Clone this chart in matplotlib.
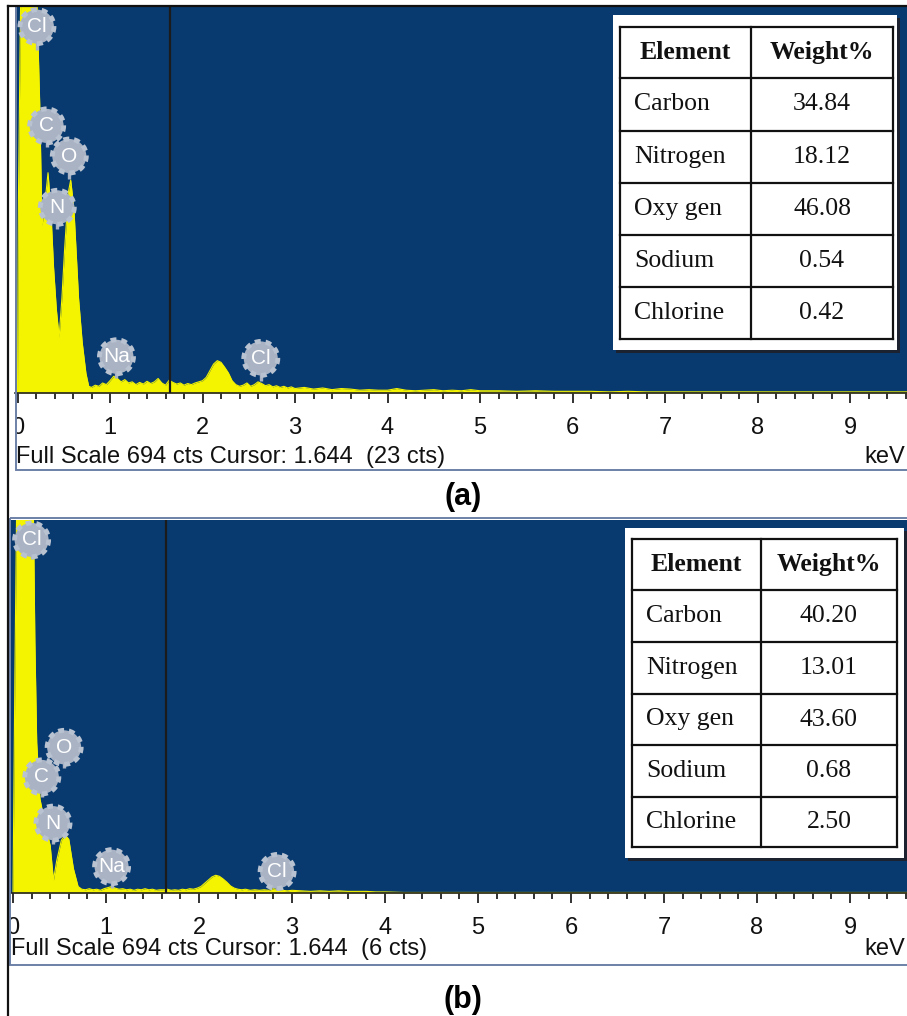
import matplotlib
matplotlib.use("Agg")
import matplotlib.pyplot as plt
from matplotlib.patches import Rectangle
from matplotlib.transforms import Bbox, TransformedBbox

# ---------------- data ----------------
full_scale = 694
cursor_kev = 1.644
cursor_cts_a = 23
cursor_cts_b = 6

# spectrum (a): energy keV / counts
energy_a = [0.00, 0.01, 0.03, 0.05, 0.18, 0.21, 0.24, 0.265, 0.29, 0.33, 0.36, 0.39, 0.42, 0.45,
            0.48, 0.51, 0.55, 0.575, 0.61, 0.66, 0.70, 0.74, 0.77,
            0.80, 0.84, 0.88, 0.92, 0.96, 1.00, 1.04, 1.08, 1.12, 1.16, 1.20, 1.24, 1.28, 1.32,
            1.36, 1.40, 1.44, 1.48, 1.52, 1.56, 1.60, 1.64, 1.68, 1.72, 1.76, 1.80, 1.84, 1.88,
            1.92, 1.96, 2.00, 2.04, 2.08, 2.12, 2.16, 2.20, 2.24, 2.28, 2.32, 2.36, 2.40, 2.44,
            2.48, 2.52, 2.56, 2.60, 2.64, 2.68, 2.72, 2.76, 2.80, 2.84, 2.88, 2.92, 2.96, 3.00,
            3.10, 3.20, 3.30, 3.40, 3.50, 3.60, 3.70, 3.80, 3.90, 4.00, 4.10, 4.20, 4.30, 4.40,
            4.50, 4.60, 4.70, 4.80, 4.90, 5.00, 5.20, 5.40, 5.60, 5.80, 6.00, 6.20, 6.40, 6.60,
            6.80, 7.00, 7.30, 7.60, 8.00, 8.50, 9.00, 9.70]
counts_a = [0, 350, 650, 900, 900, 700, 520, 300, 330, 395, 330, 225, 150, 100,
            170, 260, 360, 382, 330, 170, 90, 35, 12,
            10, 14, 12, 18, 15, 22, 30, 26, 20, 24, 18, 20, 15, 19,
            16, 21, 17, 20, 26, 18, 14, 23, 19, 16, 18, 14, 17, 15,
            18, 20, 22, 28, 40, 52, 58, 55, 46, 36, 22, 15, 12, 14,
            18, 12, 15, 20, 17, 13, 15, 11, 13, 10, 12, 9, 11, 8,
            10, 7, 9, 6, 8, 7, 5, 6, 5, 5, 8, 5, 4, 5,
            6, 4, 5, 4, 6, 4, 4, 3, 4, 3, 3, 3, 2, 3,
            2, 2, 2, 2, 2, 2, 2, 2]

# spectrum (b)
energy_b = [0.00, 0.02, 0.05, 0.19, 0.22, 0.235, 0.255, 0.29, 0.33, 0.36, 0.40, 0.435, 0.47,
            0.52, 0.56, 0.60, 0.65, 0.70,
            0.74, 0.78, 0.82, 0.86, 0.90, 0.94, 0.98, 1.02, 1.06, 1.10, 1.14, 1.18, 1.22, 1.26,
            1.30, 1.34, 1.38, 1.42, 1.46, 1.50, 1.54, 1.58, 1.62, 1.66, 1.70, 1.74, 1.78, 1.82,
            1.86, 1.90, 1.94, 1.98, 2.02, 2.06, 2.10, 2.14, 2.18, 2.22, 2.26, 2.30, 2.34, 2.38,
            2.42, 2.46, 2.50, 2.55, 2.60, 2.65, 2.70, 2.75, 2.80, 2.85, 2.90, 2.95, 3.00, 3.10,
            3.20, 3.30, 3.40, 3.50, 3.60, 3.70, 3.80, 3.90, 4.00, 4.20, 5.00, 6.00, 7.00, 8.00,
            9.70]
counts_b = [0, 400, 900, 900, 700, 470, 280, 175, 140, 118, 88, 24, 60,
            98, 108, 100, 45, 12,
            7, 6, 8, 6, 7, 5, 8, 10, 12, 9, 7, 8, 6, 7,
            5, 7, 6, 8, 6, 7, 5, 6, 6, 7, 5, 6, 5, 7,
            6, 8, 7, 9, 12, 18, 24, 30, 33, 31, 26, 20, 13, 9,
            7, 6, 7, 5, 6, 5, 6, 5, 8, 6, 5, 4, 5, 4,
            3, 4, 3, 4, 3, 3, 3, 2, 2, 1, 1, 1, 1, 1,
            1]

# element labels on the spectra
labels_a = ["Cl", "C", "O", "N", "Na", "Cl"]
label_kev_a = [0.21, 0.315, 0.56, 0.43, 1.07, 2.63]
label_pin_a = [615, 442, 384, 294, 27, 21]
label_top_a = [657, 479, 425, 333, 65, 62]

labels_b = ["Cl", "O", "C", "N", "Na", "Cl"]
label_kev_b = [0.20, 0.55, 0.31, 0.43, 1.06, 2.84]
label_pin_b = [621, 232, 179, 92, 9, 6]
label_top_b = [657, 271, 216, 130, 49, 40]

# tables
elements = ["Carbon", "Nitrogen", "Oxy gen", "Sodium", "Chlorine"]
weight_a = ["34.84", "18.12", "46.08", "0.54", "0.42"]
weight_b = ["40.20", "13.01", "43.60", "0.68", "2.50"]
table_header = ["Element", "Weight%"]

# ---------------- style ----------------
W, H = 907, 1016
NAVY = "#083a6f"
YELLOW = "#f4f400"
BADGE = "#a9b3c4"
FRAME = "#6d80a6"
SANS = ["Liberation Sans", "DejaVu Sans"]
SERIF = ["Liberation Serif", "DejaVu Serif"]

fig = plt.figure(figsize=(W / 100, H / 100), dpi=100)
fig.patch.set_facecolor("white")


def px_axes(x0, y0, x1, y1):
    return fig.add_axes([x0 / W, 1 - y1 / H, (x1 - x0) / W, (y1 - y0) / H])


def spectrum_panel(rect, zero_px, px_per_kev, energy, counts, labels, lkev, lpin, ltop,
                   clip_left):
    x0, y0, x1, y1 = rect
    ax = px_axes(x0, y0, x1, y1)
    ax.set_facecolor(NAVY)
    ax.set_xlim((x0 - zero_px) / px_per_kev, (x1 - zero_px) / px_per_kev)
    ax.set_ylim(0, full_scale)
    ax.fill_between(energy, counts, 0, color=YELLOW, lw=0, zorder=2)
    ax.plot(energy, counts, color=YELLOW, lw=0.8, zorder=2)
    ax.axvline(cursor_kev, color="#1b1b1b", lw=1.6, zorder=3)
    for s in ["top", "left", "right"]:
        ax.spines[s].set_visible(False)
    ax.spines["bottom"].set_color("#222222")
    ax.spines["bottom"].set_linewidth(1.2)
    ax.set_yticks([])
    ax.set_xticks(range(0, 10))
    ax.set_xticks([i * 0.2 for i in range(0, 49)], minor=True)
    ax.tick_params(axis="x", which="major", direction="out", length=7, width=1.3,
                   color="#222222", pad=10, labelsize=17, labelcolor="#111111")
    ax.tick_params(axis="x", which="minor", direction="out", length=4, width=1.3,
                   color="#222222")
    clipbox = TransformedBbox(Bbox([[clip_left / W, 0], [1, 1]]), fig.transFigure)
    for lab in ax.get_xticklabels():
        lab.set_fontfamily(SANS)
        lab.set_clip_box(clipbox)
        lab.set_clip_on(True)
    # element badges
    for name, e, p, t in zip(labels, lkev, lpin, ltop):
        ax.plot([e, e], [p, t], color=BADGE, lw=2.4, zorder=4, solid_capstyle="butt")
        ax.scatter([e], [t], s=600, color=BADGE, edgecolors="#b9c2d0", linewidths=3.5,
                   linestyles=(0, (1.2, 1.0)), zorder=5)
        ax.text(e, t, name, color="white", ha="center", va="center", fontsize=15,
                family=SANS, zorder=6)
    return ax


ax_a = spectrum_panel((15, 6, 907, 393), 17.5, 92.5, energy_a, counts_a,
                      labels_a, label_kev_a, label_pin_a, label_top_a, 16)
ax_b = spectrum_panel((11, 520, 907, 893), 13.0, 93.0, energy_b, counts_b,
                      labels_b, label_kev_b, label_pin_b, label_top_b, 11)

# overlay in pixel coordinates
ov = fig.add_axes([0, 0, 1, 1])
ov.set_xlim(0, W)
ov.set_ylim(H, 0)
ov.axis("off")
ov.patch.set_alpha(0)
ov.set_zorder(10)

# outer border lines
ov.plot([8, 8], [6, H], color="#111111", lw=1.6)
ov.plot([8, W], [6, 6], color="#111111", lw=1.6)

# panel frames
ov.add_patch(Rectangle((16, 6), 900, 464, fill=False, ec=FRAME, lw=1.4))
ov.add_patch(Rectangle((10, 518), 906, 447, fill=False, ec=FRAME, lw=1.4))

# status text
ov.text(16, 457, f"Full Scale {full_scale} cts Cursor: {cursor_kev:.3f}  ({cursor_cts_a} cts)",
        fontsize=17, family=SANS, color="#111111", ha="left", va="center")
ov.text(905, 457, "keV", fontsize=17, family=SANS, color="#111111", ha="right", va="center")
ov.text(11, 949, f"Full Scale {full_scale} cts Cursor: {cursor_kev:.3f}  ({cursor_cts_b} cts)",
        fontsize=17, family=SANS, color="#111111", ha="left", va="center")
ov.text(905, 949, "keV", fontsize=17, family=SANS, color="#111111", ha="right", va="center")

# panel captions
ov.text(463, 497, "(a)", fontsize=22, fontweight="bold", family=SANS, ha="center", va="center")
ov.text(463, 1000, "(b)", fontsize=22, fontweight="bold", family=SANS, ha="center", va="center")


def draw_table(box, gx, gy, values):
    bx0, by0, bx1, by1 = box
    ov.add_patch(Rectangle((bx0 + 3, by0 + 3), bx1 - bx0, by1 - by0, color="#1d2230", lw=0))
    ov.add_patch(Rectangle((bx0, by0), bx1 - bx0, by1 - by0, color="white", lw=0))
    for x in gx:
        ov.plot([x, x], [gy[0], gy[-1]], color="#111111", lw=1.6)
    for y in gy:
        ov.plot([gx[0], gx[-1]], [y, y], color="#111111", lw=1.6)
    c1 = (gx[0] + gx[1]) / 2
    c2 = (gx[1] + gx[2]) / 2
    ymid = [(gy[i] + gy[i + 1]) / 2 for i in range(len(gy) - 1)]
    ov.text(c1, ymid[0], table_header[0], fontsize=18.5, fontweight="bold", family=SERIF,
            ha="center", va="center", color="#111111")
    ov.text(c2, ymid[0], table_header[1], fontsize=18.5, fontweight="bold", family=SERIF,
            ha="center", va="center", color="#111111")
    for i, (el, v) in enumerate(zip(elements, values)):
        ov.text(gx[0] + 14, ymid[i + 1], el, fontsize=18.5, family=SERIF, ha="left",
                va="center", color="#111111")
        ov.text(c2, ymid[i + 1], v, fontsize=18.5, family=SERIF, ha="center",
                va="center", color="#111111")


draw_table((613, 15, 897, 350), [620, 751, 893], [27, 78, 131, 183, 235, 287, 339], weight_a)
draw_table((625, 528, 904, 858), [632, 761, 897], [539, 590, 642, 694, 745, 797, 847], weight_b)

fig.savefig("out.png", dpi=100, facecolor="white")
